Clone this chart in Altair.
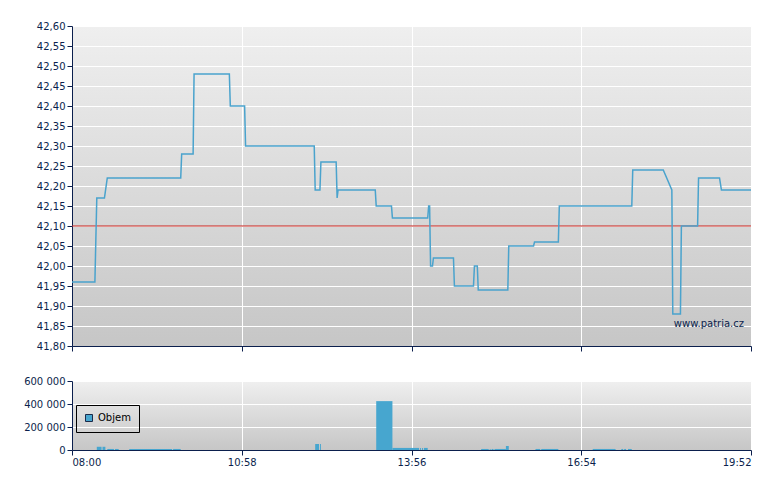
import altair as alt
import pandas as pd

# ---------------- data ----------------
price_times = ["08:00", "08:24", "08:26", "08:34", "08:37", "09:54", "09:55", "10:07",
               "10:08", "10:45", "10:46", "11:01", "11:02", "12:14", "12:15", "12:20",
               "12:21", "12:37", "12:38", "12:39", "13:18", "13:19", "13:35", "13:36",
               "14:13", "14:14", "14:15", "14:16", "14:18", "14:19", "14:40", "14:41",
               "15:01", "15:02", "15:05", "15:06", "15:37", "15:38", "16:04", "16:05",
               "16:30", "16:31", "17:47", "17:48", "18:20", "18:29", "18:30", "18:38",
               "18:39", "18:56", "18:57", "19:19", "19:21", "19:52"]
price_values = [41.96, 41.96, 42.17, 42.17, 42.22, 42.22, 42.28, 42.28,
                42.48, 42.48, 42.40, 42.40, 42.30, 42.30, 42.19, 42.19,
                42.26, 42.26, 42.17, 42.19, 42.19, 42.15, 42.15, 42.12,
                42.12, 42.15, 42.15, 42.00, 42.00, 42.02, 42.02, 41.95,
                41.95, 42.00, 42.00, 41.94, 41.94, 42.05, 42.05, 42.06,
                42.06, 42.15, 42.15, 42.24, 42.24, 42.19, 41.88, 41.88,
                42.10, 42.10, 42.22, 42.22, 42.19, 42.19]

vol_start = ["08:26", "08:32", "08:37", "08:45", "09:00", "09:46", "12:15", "12:20",
             "13:19", "13:36", "14:05", "14:07", "14:09", "15:09", "15:18", "15:20",
             "15:23", "15:35", "16:06", "16:12", "17:06", "17:36", "17:39", "17:43"]
vol_end = ["08:31", "08:35", "08:44", "08:49", "09:45", "09:54", "12:19", "12:21",
           "13:36", "14:04", "14:06", "14:08", "14:13", "15:17", "15:19", "15:22",
           "15:35", "15:38", "16:11", "16:30", "17:30", "17:38", "17:41", "17:47"]
vol_values = [28000, 28000, 9000, 9000, 9000, 9000, 52000, 52000,
              425000, 18000, 18000, 18000, 18000, 9000, 9000, 9000,
              9000, 35000, 9000, 9000, 9000, 9000, 9000, 9000]

ref_price = 42.10
price_ticks = [41.80, 41.85, 41.90, 41.95, 42.00, 42.05, 42.10, 42.15, 42.20,
               42.25, 42.30, 42.35, 42.40, 42.45, 42.50, 42.55, 42.60]
volume_ticks = [0, 200000, 400000, 600000]
time_ticks = ["08:00", "10:58", "13:56", "16:54", "19:52"]
series_name = "Objem"
watermark = "www.patria.cz"


def to_min(t):
    h, m = t.split(":")
    return (int(h) - 8) * 60 + int(m)


price_df = pd.DataFrame({"t": [to_min(t) for t in price_times], "price": price_values})
vol_df = pd.DataFrame({
    "start": [to_min(t) for t in vol_start],
    "end": [to_min(t) for t in vol_end],
    "vol": vol_values,
    "series": [series_name] * len(vol_values),
})
ref_df = pd.DataFrame({"price": [ref_price]})
wm_df = pd.DataFrame({"label": [watermark]})

tick_min = [to_min(t) for t in time_ticks]

NAVY = "#0b1f4d"
W = 679
H1 = 320
H2 = 69
GAP = 35

time_label = ("(floor(datum.value/60)+8 < 10 ? '0' : '') + (floor(datum.value/60)+8) + ':' + "
              "(datum.value % 60 < 10 ? '0' : '') + (datum.value % 60)")

x_scale = alt.Scale(domain=[tick_min[0], tick_min[-1]], nice=False, zero=False)

# ---------------- top panel ----------------
x_top = alt.X("t:Q", scale=x_scale, title=None,
              axis=alt.Axis(values=tick_min, labels=False, grid=True))
y_top = alt.Y("price:Q",
              scale=alt.Scale(domain=[price_ticks[0], price_ticks[-1]], nice=False, zero=False),
              title=None,
              axis=alt.Axis(values=price_ticks, grid=True, labelOverlap=False,
                            labelExpr="replace(format(datum.value, '.2f'), '.', ',')"))

line = alt.Chart(price_df).mark_line(color="#4aa3cd", strokeWidth=1.5).encode(x=x_top, y=y_top)

ref_rule = alt.Chart(ref_df).mark_rule(color="#c8221c", strokeWidth=1.2).encode(y=y_top)

wm = alt.Chart(wm_df).mark_text(align="right", baseline="middle", font="DejaVu Sans",
                                fontSize=10, color=NAVY).encode(
    text="label:N", x=alt.value(672), y=alt.value(298))

top = alt.layer(ref_rule, line, wm).properties(width=W, height=H1)

# ---------------- bottom panel ----------------
bars = alt.Chart(vol_df).mark_rect().encode(
    x=alt.X("start:Q", scale=x_scale, title=None,
            axis=alt.Axis(values=tick_min, grid=True, labelExpr=time_label)),
    x2="end:Q",
    y=alt.Y("vol:Q", scale=alt.Scale(domain=[volume_ticks[0], volume_ticks[-1]], nice=False),
            title=None,
            axis=alt.Axis(values=volume_ticks, grid=True, labelOverlap=False,
                          labelExpr="replace(format(datum.value, ','), ',', ' ')")),
    y2=alt.datum(0),
    color=alt.Color("series:N", title=None,
                    scale=alt.Scale(domain=[series_name], range=["#47a6cf"]),
                    legend=alt.Legend(orient="none", legendX=4, legendY=H1 + GAP + 24,
                                      strokeColor="black", padding=8,
                                      symbolType="square", symbolSize=49,
                                      symbolStrokeColor="#1a2a4a", symbolStrokeWidth=1,
                                      labelFont="DejaVu Sans", labelFontSize=10,
                                      labelColor="black", labelOffset=4)),
).properties(width=W, height=H2)

grad_expr = ("{gradient: 'linear', x1: 0, y1: 0, x2: 0, y2: 1, "
             "stops: [{offset: 0, color: '#efefef'}, {offset: 1, color: '#c6c6c6'}]}")

chart = alt.vconcat(top, bars, spacing=GAP, bounds="flush").properties(
    padding={"left": 15, "top": 12, "right": 5, "bottom": 5}
).configure_view(
    fill=alt.ExprRef(expr=grad_expr), stroke="transparent"
).configure_axis(
    labelFont="DejaVu Sans", labelFontSize=10, labelColor=NAVY,
    domainColor=NAVY, tickColor=NAVY, domainWidth=1, tickWidth=1,
    tickSize=5, labelPadding=2, gridColor="white", gridWidth=1, gridOpacity=1,
)

chart.save("out.html", embed_options={"renderer": "svg", "actions": False})
